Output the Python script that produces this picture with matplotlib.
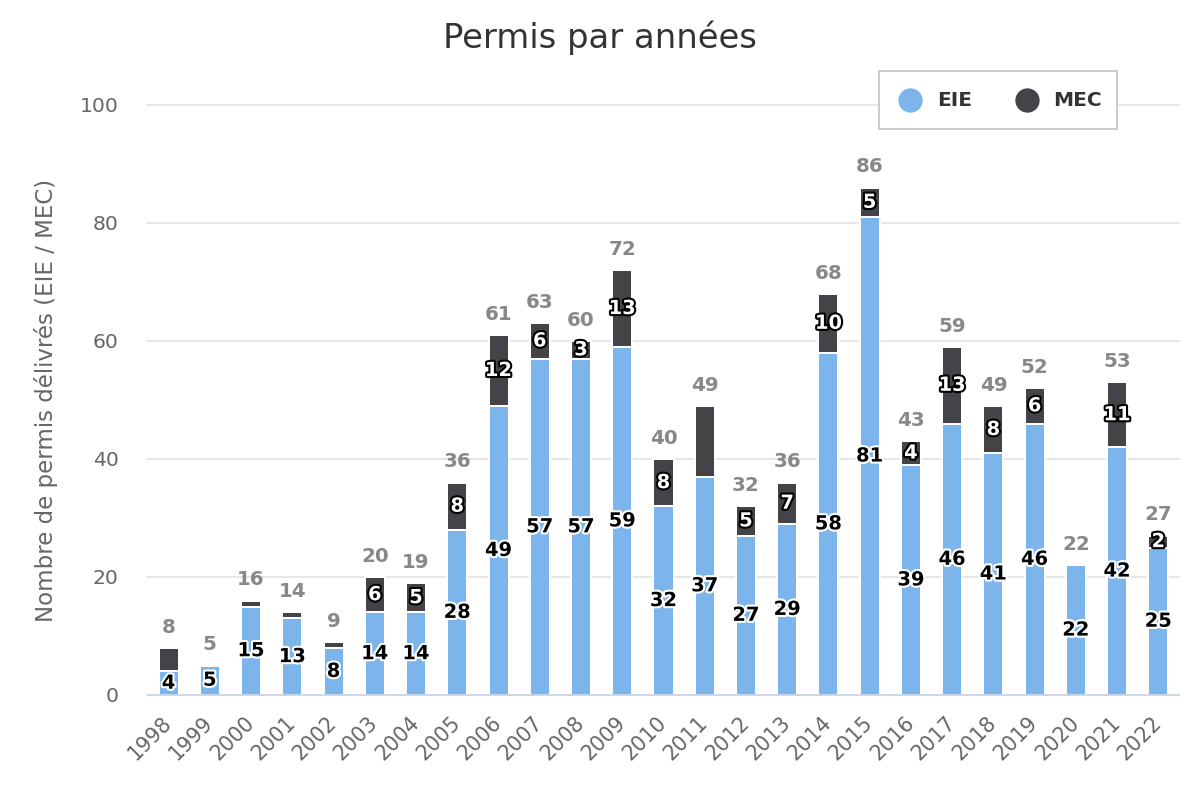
import matplotlib
matplotlib.use("Agg")
import matplotlib.pyplot as plt
import matplotlib.patheffects as pe
from matplotlib.patches import Rectangle
from matplotlib.lines import Line2D
import numpy as np

# ---- data ----
years = ["1998", "1999", "2000", "2001", "2002", "2003", "2004", "2005", "2006",
         "2007", "2008", "2009", "2010", "2011", "2012", "2013", "2014", "2015",
         "2016", "2017", "2018", "2019", "2020", "2021", "2022"]
eie = [4, 5, 15, 13, 8, 14, 14, 28, 49, 57, 57, 59, 32, 37, 27, 29, 58, 81,
       39, 46, 41, 46, 22, 42, 25]
mec = [4, 0, 1, 1, 1, 6, 5, 8, 12, 6, 3, 13, 8, 12, 5, 7, 10, 5,
       4, 13, 8, 6, 0, 11, 2]
mec_label_hidden = ["1998", "2000", "2001", "2002", "2011"]
series_names = ["EIE", "MEC"]
series_colors = ["#7cb5ec", "#434348"]
title = "Permis par années"
ylabel = "Nombre de permis délivrés (EIE / MEC)"
yticks = [0, 20, 40, 60, 80, 100]

plt.rcParams['font.family'] = ['DejaVu Sans']

W, H = 1200, 800
fig = plt.figure(figsize=(12, 8), dpi=100)
L, R, T, B = 148, 1179, 105, 695
ax = fig.add_axes([L / W, 1 - B / H, (R - L) / W, (B - T) / H])

x = np.arange(len(years))
bw = 0.485
px = 0.72  # one pixel in points

ax.bar(x, eie, width=bw, color=series_colors[0], edgecolor="white",
       linewidth=2 * px, zorder=3)
ax.bar(x, mec, width=bw, bottom=eie, color=series_colors[1],
       edgecolor="white", linewidth=2 * px, zorder=3)

ax.set_xlim(-0.5, len(years) - 0.5)
ax.set_ylim(0, 100)
ax.set_yticks(yticks)
ax.yaxis.grid(True, color="#e6e6e6", linewidth=2 * px, zorder=0)
for gl in ax.get_ygridlines():
    gl.set_clip_on(False)
ax.set_axisbelow(True)
for s in ["top", "right", "left"]:
    ax.spines[s].set_visible(False)
ax.spines["bottom"].set_color("#ccd6eb")
ax.spines["bottom"].set_linewidth(2 * px)
ax.spines["bottom"].set_zorder(4)

ax.tick_params(axis="y", length=0, pad=21, labelsize=14.7, labelcolor="#666666")
ax.set_xticks(x)
ax.set_xticklabels(years, rotation=45, ha="right", va="center",
                   rotation_mode="anchor")
ax.tick_params(axis="x", length=0, pad=18, labelsize=14.9, labelcolor="#666666")

# data labels
dl_size = 14
for i in range(len(years)):
    if eie[i] > 0:
        ax.text(x[i], eie[i] / 2, str(eie[i]), ha="center", va="center",
                fontsize=dl_size, fontweight="bold", color="black", zorder=6,
                path_effects=[pe.withStroke(linewidth=3, foreground="white")])
    if mec[i] > 0 and years[i] not in mec_label_hidden:
        ax.text(x[i], eie[i] + mec[i] / 2, str(mec[i]), ha="center", va="center",
                fontsize=dl_size, fontweight="bold", color="white", zorder=6,
                path_effects=[pe.withStroke(linewidth=3, foreground="black")])
    total = eie[i] + mec[i]
    ax.annotate(str(total), xy=(x[i], total), xytext=(0, 11),
                textcoords="offset points", ha="center", va="baseline",
                fontsize=14.3, fontweight="bold", color="#888888", zorder=6)

# title and y label
fig.text(0.5, 1 - 48 / H, title, ha="center", va="baseline", fontsize=24.4,
         color="#333333")
fig.text(46 / W, 1 - 400 / H, ylabel, rotation=90, ha="center", va="center",
         fontsize=16.5, color="#666666")

# legend (manual, Highcharts style)
lx0, lx1, ly0, ly1 = 879, 1117, 71, 129
fig.add_artist(Rectangle((lx0 / W, 1 - ly1 / H), (lx1 - lx0) / W, (ly1 - ly0) / H,
                         transform=fig.transFigure, facecolor="white",
                         edgecolor="#cccccc", linewidth=2 * px, zorder=10))
items = [(910, 937), (1027, 1053)]
for (cx, tx), name, col in zip(items, series_names, series_colors):
    fig.add_artist(Line2D([cx / W], [1 - 100 / H], marker="o", markersize=16.5,
                          markerfacecolor=col, markeredgecolor=col, linestyle="none",
                          transform=fig.transFigure, zorder=11))
    fig.text(tx / W, 1 - 100 / H, name, ha="left", va="center", fontsize=14.5,
             fontweight="bold", color="#333333", zorder=11)

fig.savefig("out.png", dpi=100, facecolor="white")
